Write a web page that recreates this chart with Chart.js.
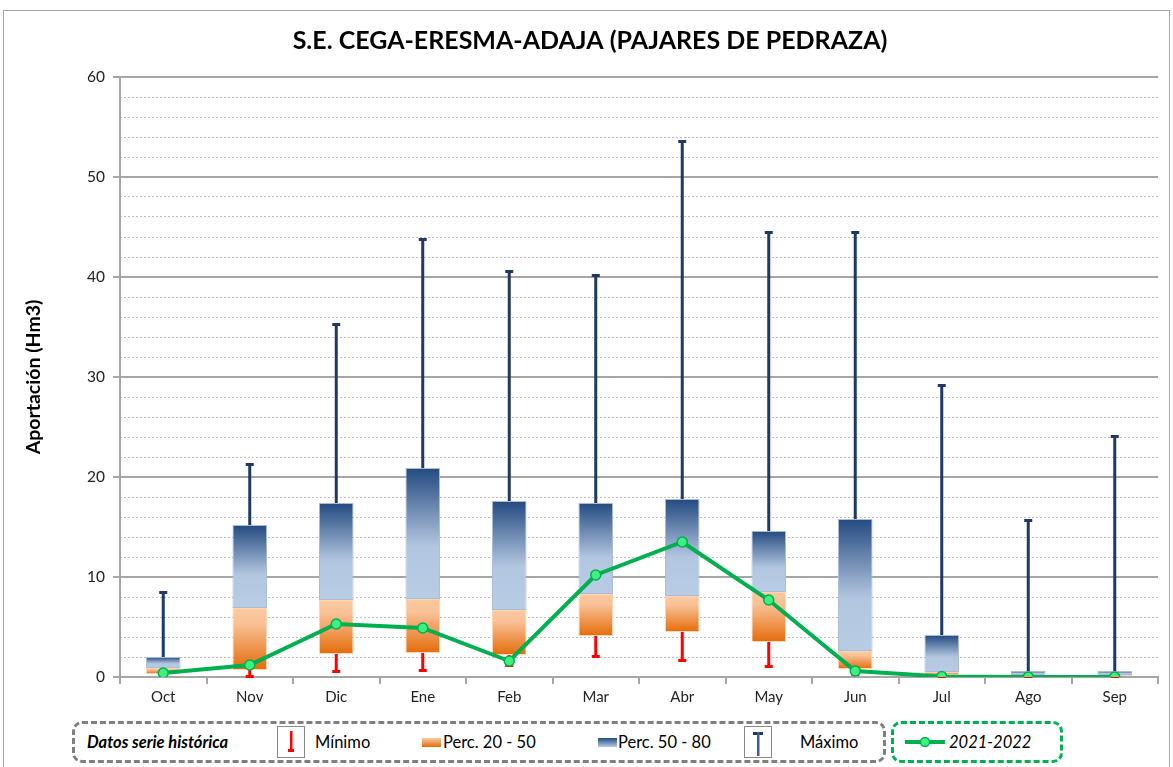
<!DOCTYPE html>
<html>
<head>
<meta charset="utf-8">
<script src="https://cdn.jsdelivr.net/npm/chart.js@4/dist/chart.umd.min.js"></script>
<style>
  body { margin: 0; background: #fff; font-family: Lato, "Open Sans", sans-serif; }
  #frame { position: absolute; left: 3px; top: 10px; width: 1165px; height: 790px; border: 1.5px solid #a6a6a6; }
  #wrap { position: absolute; left: 0; top: 0; width: 1173px; height: 712px; }
  .legbox { position: absolute; top: 721px; height: 36px; border-radius: 10px; }
  #legHist { left: 72px; width: 808px; border: 3px dashed #7f7f7f; }
  #legCur { left: 891px; width: 166px; border: 3px dashed #00b050; }
  .leg { position: absolute; top: 0; height: 36px; line-height: 36px; font-size: 16.5px; color: #000; white-space: nowrap; }
  .icon { position: absolute; top: 2px; width: 26px; height: 30px; border: 1px solid #888; }
  .sw { position: absolute; top: 14px; width: 19px; height: 9px; }
</style>
</head>
<body>
<div id="frame"></div>
<div id="wrap"><canvas id="chart"></canvas></div>
<div id="legHist" class="legbox">
  <div class="leg" style="left:12px;font-weight:bold;font-style:italic;">Datos serie histórica</div>
  <div class="icon" style="left:202px;"><canvas id="icoMin" width="26" height="30"></canvas></div>
  <div class="leg" style="left:240px;">Mínimo</div>
  <div class="sw" style="left:347px;background:linear-gradient(#fbc9a0,#e46c0a);"></div>
  <div class="leg" style="left:368px;">Perc. 20 - 50</div>
  <div class="sw" style="left:523px;background:linear-gradient(#1f4a7e,#b8cce4);"></div>
  <div class="leg" style="left:543px;">Perc. 50 - 80</div>
  <div class="icon" style="left:669px;"><canvas id="icoMax" width="26" height="30"></canvas></div>
  <div class="leg" style="left:725px;">Máximo</div>
</div>
<div id="legCur" class="legbox">
  <canvas id="icoLine" width="44" height="36" style="position:absolute;left:9px;top:0;"></canvas>
  <div class="leg" style="left:55px;font-style:italic;">2021-2022</div>
</div>
<script>
const meses = ['Oct', 'Nov', 'Dic', 'Ene', 'Feb', 'Mar', 'Abr', 'May', 'Jun', 'Jul', 'Ago', 'Sep'];
const minimo = [0.2, 0.0, 0.5, 0.6, 1.1, 2.0, 1.6, 1.0, 0.2, 0.0, 0.0, 0.0];
const perc20 = [0.3, 0.7, 2.3, 2.4, 2.2, 4.1, 4.5, 3.5, 0.8, 0.2, 0.1, 0.1];
const perc50 = [0.9, 6.9, 7.7, 7.8, 6.7, 8.3, 8.1, 8.5, 2.6, 0.5, 0.2, 0.2];
const perc80 = [2.0, 15.2, 17.4, 20.9, 17.6, 17.4, 17.8, 14.6, 15.8, 4.2, 0.6, 0.6];
const maximo = [8.5, 21.3, 35.3, 43.8, 40.6, 40.2, 53.6, 44.5, 44.5, 29.2, 15.7, 24.1];
const serie2122 = [0.4, 1.2, 5.3, 4.9, 1.6, 10.2, 13.5, 7.7, 0.6, 0.05, 0.0, 0.0];

const NAVY = '#1f3864';
const RED = '#ff0000';
const GREEN = '#00b050';
const GRID = '#a6a6a6';

const orangeStops = [[0, '#fbc9a0'], [0.25, '#f9c196'], [1, '#e46c0a']];
const blueStops = [[0, '#234a80'], [0.6, '#b3c6e0'], [1, '#b8cce4']];

function barGradient(stops) {
    return function (ctx) {
        const chart = ctx.chart;
        if (!chart.chartArea || ctx.type !== 'data') return stops[stops.length - 1][1];
        const y = chart.scales.y;
        const v = ctx.raw;
        const top = y.getPixelForValue(v[1]);
        let bot = y.getPixelForValue(v[0]);
        if (bot - top < 1) bot = top + 1;
        const g = chart.ctx.createLinearGradient(0, top, 0, bot);
        stops.forEach(s => g.addColorStop(s[0], s[1]));
        return g;
    };
}

// whiskers (min / max) drawn from the scales
const whiskers = {
    id: 'whiskers',
    beforeDatasetsDraw(chart) {
        const {ctx, scales: {x, y}} = chart;
        ctx.save();
        ctx.lineWidth = 3;
        meses.forEach((m, i) => {
            const px = x.getPixelForValue(i);
            // max
            ctx.strokeStyle = NAVY;
            ctx.beginPath();
            ctx.moveTo(px, y.getPixelForValue(perc80[i]));
            ctx.lineTo(px, y.getPixelForValue(maximo[i]));
            ctx.stroke();
            ctx.fillStyle = NAVY;
            ctx.fillRect(px - 4, y.getPixelForValue(maximo[i]) - 1, 8, 3);
            // min
            ctx.strokeStyle = RED;
            ctx.beginPath();
            ctx.moveTo(px, y.getPixelForValue(perc20[i]));
            ctx.lineTo(px, y.getPixelForValue(minimo[i]));
            ctx.stroke();
            ctx.fillStyle = RED;
            ctx.fillRect(px - 4, y.getPixelForValue(minimo[i]) - 2, 8, 3);
        });
        ctx.restore();
    }
};

const chart = new Chart(document.getElementById('chart'), {
    type: 'bar',
    data: {
        labels: meses,
        datasets: [
            {
                type: 'line',
                label: '2021-2022',
                data: serie2122,
                borderColor: GREEN,
                borderWidth: 4,
                pointRadius: 5,
                pointBackgroundColor: '#3ff080',
                pointBorderColor: GREEN,
                pointBorderWidth: 1.5,
                tension: 0,
                order: 0
            },
            {
                label: 'Perc. 20 - 50',
                data: perc20.map((v, i) => [v, perc50[i]]),
                backgroundColor: barGradient(orangeStops),
                borderColor: '#fbd5b5',
                borderWidth: 1,
                borderSkipped: false,
                order: 2
            },
            {
                label: 'Perc. 50 - 80',
                data: perc50.map((v, i) => [v, perc80[i]]),
                backgroundColor: barGradient(blueStops),
                borderColor: '#a9bcd6',
                borderWidth: 1,
                borderSkipped: false,
                order: 1
            }
        ]
    },
    options: {
        responsive: true,
        maintainAspectRatio: false,
        animation: false,
        grouped: false,
        barPercentage: 0.4,
        categoryPercentage: 1,
        layout: { padding: { top: 14, right: 15, bottom: 2, left: 22 } },
        plugins: {
            legend: { display: false },
            tooltip: { enabled: false },
            title: {
                display: true,
                text: 'S.E. CEGA-ERESMA-ADAJA (PAJARES DE PEDRAZA)',
                color: '#000',
                font: { family: 'Lato', size: 25, weight: 'bold' },
                padding: { top: 12, bottom: 21 }
            }
        },
        scales: {
            x: {
                grid: { drawOnChartArea: false, drawTicks: true, tickLength: 7, color: GRID, lineWidth: 2, offset: true },
                border: { color: GRID, width: 2 },
                ticks: { color: '#222', font: { family: 'Lato', size: 15 }, padding: 4 }
            },
            y: {
                min: 0,
                max: 60,
                ticks: { stepSize: 10, color: '#222', font: { family: 'Lato', size: 15.5 }, padding: 8 },
                grid: { color: GRID, lineWidth: 2, tickLength: 7 },
                border: { color: GRID, width: 2 },
                title: {
                    display: true,
                    text: 'Aportación (Hm3)',
                    color: '#000',
                    font: { family: 'Lato', size: 19.5, weight: 'bold' },
                    padding: { top: 0, bottom: 0 }
                },
                afterFit: s => { s.width = 98; }
            },
            y2: {
                position: 'left',
                min: 0,
                max: 60,
                ticks: { display: false, stepSize: 2 },
                grid: {
                    drawTicks: false,
                    lineWidth: 1,
                    color: c => (c.tick && c.tick.value % 10 === 0) ? 'rgba(0,0,0,0)' : '#bfbfbf'
                },
                border: { display: false, dash: [2, 2] },
                afterFit: s => { s.width = 0; }
            }
        }
    },
    plugins: [whiskers]
});

// legend icons
(function () {
    let c = document.getElementById('icoMin').getContext('2d');
    c.fillStyle = RED;
    c.fillRect(12, 4, 2.5, 20);
    c.fillRect(10, 22, 6, 3);
    c = document.getElementById('icoMax').getContext('2d');
    c.fillStyle = NAVY;
    c.fillRect(8, 5, 10, 3);
    c.fillStyle = '#3b5f8f';
    c.fillRect(12, 5, 2.5, 24);
    c = document.getElementById('icoLine').getContext('2d');
    c.strokeStyle = GREEN;
    c.lineWidth = 4;
    c.beginPath(); c.moveTo(2, 18); c.lineTo(42, 18); c.stroke();
    c.fillStyle = '#3ff080';
    c.lineWidth = 1.5;
    c.beginPath(); c.arc(22, 18, 4.5, 0, Math.PI * 2); c.fill(); c.stroke();
})();
</script>
</body>
</html>
